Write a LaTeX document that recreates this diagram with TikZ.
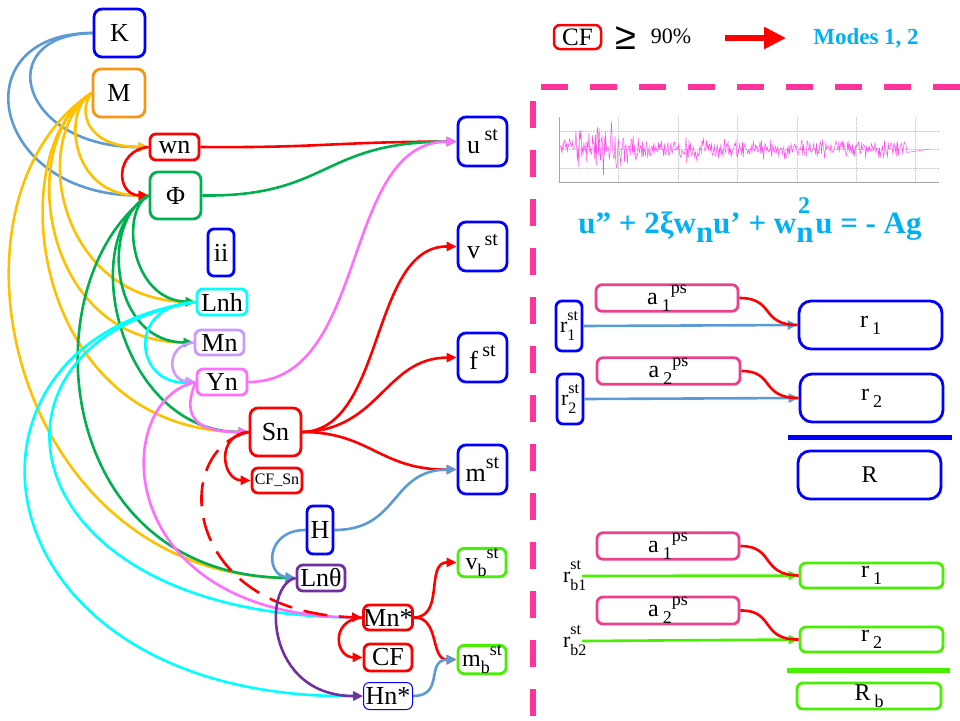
\documentclass[tikz,border=0pt]{standalone}
\usepackage{fontspec}
\setmainfont{Liberation Serif}
\newfontfamily\sansf{Liberation Sans}
\usetikzlibrary{arrows.meta}
\pgfdeclarelayer{bg}
\pgfsetlayers{bg,main}
\definecolor{cBlue}{RGB}{0,0,255}
\definecolor{cOrange}{RGB}{245,150,20}
\definecolor{cRed}{RGB}{255,0,0}
\definecolor{cGreen}{RGB}{0,176,80}
\definecolor{cCyan}{RGB}{0,255,255}
\definecolor{cLav}{RGB}{204,153,255}
\definecolor{cPink}{RGB}{255,110,255}
\definecolor{cPurple}{RGB}{112,48,160}
\definecolor{cLime}{RGB}{70,240,0}
\definecolor{cSteel}{RGB}{91,155,213}
\definecolor{cGold}{RGB}{255,192,0}
\definecolor{cMag}{RGB}{255,51,153}
\definecolor{cRose}{RGB}{236,64,140}
\definecolor{cSky}{RGB}{0,176,240}
\definecolor{cSig}{RGB}{255,80,240}
\newcommand{\MySup}[1]{\raisebox{0.5em}{\fontsize{20}{20}\selectfont #1}}
\newcommand{\MySupS}[1]{\raisebox{0.45em}{\fontsize{18}{18}\selectfont #1}}
\newcommand{\MySubS}[1]{\raisebox{-0.3em}{\fontsize{18}{18}\selectfont #1}}
\newcommand{\MyStack}[3]{#1\rlap{\raisebox{-0.4em}{\fontsize{16}{16}\selectfont #2}}\raisebox{0.55em}{\fontsize{16}{16}\selectfont #3}}
\tikzset{
  box/.style={draw=#1, fill=white, text=black, rounded corners=8pt, line width=2.8pt, inner sep=0pt, font=\fontsize{26}{27}\selectfont},
  sbox/.style={box=#1, rounded corners=6pt},
  rbox/.style={box=#1, rounded corners=6pt, font=\fontsize{24}{25}\selectfont},
  con/.style={line width=2.6pt, -{Triangle[length=10pt,width=9pt]}},
  plain/.style={line width=2.6pt},
}
\begin{document}
\begin{tikzpicture}[x=1pt,y=-1pt]
\useasboundingbox (0,0) rectangle (960,720);
% ---------- left nodes ----------
\node[box=cBlue, minimum width=51pt, minimum height=48pt] (K) at (119.5,33) {K};
\node[box=cOrange, minimum width=52pt, minimum height=48pt] (M) at (119,93) {M};
\node[sbox=cRed, minimum width=49pt, minimum height=26pt] (wn) at (174.5,147) {wn};
\node[box=cGreen, minimum width=51pt, minimum height=47pt] (Phi) at (175.5,195.5) {Φ};
\node[sbox=cBlue, minimum width=26pt, minimum height=47pt] (ii) at (221,252.5) {ii};
\node[sbox=cCyan, minimum width=50pt, minimum height=26pt] (Lnh) at (222,302) {Lnh};
\node[sbox=cLav, minimum width=49pt, minimum height=25pt] (Mn) at (219.5,342.5) {Mn};
\node[sbox=cPink, minimum width=50pt, minimum height=26pt] (Yn) at (222,382) {Yn};
\node[box=cRed, minimum width=51pt, minimum height=48pt] (Sn) at (275.5,432) {Sn};
\node[sbox=cRed, minimum width=50pt, minimum height=25pt, font=\fontsize{16}{17}\selectfont] (CFSn) at (277,480.5) {CF\_Sn};
\node[sbox=cBlue, minimum width=26pt, minimum height=48pt] (H) at (320,530) {H};
\node[sbox=cPurple, minimum width=48pt, minimum height=26pt] (Lnt) at (321,578) {Lnθ};
\node[sbox=cRed, minimum width=48pt, minimum height=25pt] (Mns) at (388,617.5) {Mn*};
\node[sbox=cRed, minimum width=48pt, minimum height=27pt] (CF) at (388,657.5) {CF};
\node[sbox=cBlue, line width=1pt, minimum width=49pt, minimum height=27pt] (Hns) at (388,696) {Hn*};
% ---------- output nodes ----------
\node[box=cBlue, minimum width=49pt, minimum height=49pt] (ust) at (482.5,141.5) {u\,\MySup{st}};
\node[box=cBlue, minimum width=49pt, minimum height=49pt] (vst) at (482.5,246.5) {v\,\MySup{st}};
\node[box=cBlue, minimum width=49pt, minimum height=49pt] (fst) at (482.5,357.5) {f\,\MySup{st}};
\node[box=cBlue, minimum width=49pt, minimum height=49pt] (mst) at (482.5,469.5) {m\MySup{st}};
\node[sbox=cLime, minimum width=48pt, minimum height=27pt, font=\fontsize{24}{24}\selectfont] (vbst) at (482,562.5) {v\MySubS{b}\MySupS{st}};
\node[sbox=cLime, minimum width=48pt, minimum height=27pt, font=\fontsize{24}{24}\selectfont] (mbst) at (482,659.5) {m\MySubS{b}\MySupS{st}};
% ---------- connectors (background) ----------
\begin{pgfonlayer}{bg}
% K (steel blue)
\draw[con, cSteel] (K.west) .. controls (-10,35) and (20,148) .. (wn.west);
\draw[con, cSteel] (K.west) .. controls (-40,33) and (-10,196) .. (Phi.west);
% M (gold)
\draw[con, cGold] (M.west) .. controls (78,110) and (85,147) .. (wn.west);
\draw[con, cGold] (M.west) .. controls (62,110) and (70,196) .. (Phi.west);
\draw[con, cGold] (M.west) .. controls (28,140) and (60,300) .. (Lnh.west);
\draw[con, cGold] (M.west) .. controls (15,140) and (40,342) .. (Mn.west);
\draw[con, cGold] (M.west) .. controls (0,150) and (30,430) .. (Sn.west);
\draw[con, cGold] (M.west) .. controls (-70,200) and (10,575) .. (Lnt.west);
% wn
\draw[con, cRed] (wn.west) .. controls (115,150) and (115,195) .. (Phi.west);
\draw[con, cRed] (wn.east) .. controls (320,148) and (330,142) .. (ust.west);
% Phi (green)
\draw[con, cGreen] (Phi.east) .. controls (330,197) and (320,142) .. (ust.west);
\draw[con, cGreen] (Phi.west) .. controls (120,210) and (130,300) .. (Lnh.west);
\draw[con, cGreen] (Phi.west) .. controls (100,220) and (110,342) .. (Mn.west);
\draw[con, cGreen] (Phi.west) .. controls (75,240) and (120,432) .. (Sn.west);
\draw[con, cGreen] (Phi.west) .. controls (30,280) and (50,575) .. (Lnt.west);
% Lnh (cyan)
\draw[con, cCyan] (Lnh.west) .. controls (125,305) and (135,385) .. (Yn.west);
\draw[con, cCyan] (Lnh.west) .. controls (-35,340) and (0,615) .. (Mns.west);
\draw[con, cCyan] (Lnh.west) .. controls (-72,340) and (-30,700) .. (Hns.west);
% Mn
\draw[con, cLav] (Mn.west) .. controls (165,345) and (168,380) .. (Yn.west);
% Yn (pink)
\draw[con, cPink] (Yn.east) .. controls (370,382) and (340,142) .. (ust.west);
\draw[con, cPink] (Yn.west) .. controls (180,420) and (200,432) .. (Sn.west);
\draw[con, cPink] (Yn.west) .. controls (110,400) and (110,615) .. (Mns.west);
% Sn (red)
\draw[con, cRed] (Sn.east) .. controls (385,430) and (370,246) .. (vst.west);
\draw[con, cRed] (Sn.east) .. controls (380,430) and (385,358) .. (fst.west);
\draw[con, cRed] (Sn.east) .. controls (370,432) and (380,470) .. (mst.west);
\draw[con, cRed] (Sn.west) .. controls (215,435) and (222,480) .. (CFSn.west);
\draw[con, cRed, dash pattern=on 24pt off 12pt] (Sn.west) .. controls (170,450) and (180,612) .. (Mns.west);
% H
\draw[con, cSteel] (H.west) .. controls (265,530) and (265,575) .. (Lnt.west);
\draw[con, cSteel] (H.east) .. controls (400,530) and (390,470) .. (mst.west);
% Lntheta
\draw[con, cPurple] (Lnt.west) .. controls (262,585) and (265,696) .. (Hns.west);
% Mn*
\draw[con, cRed] (Mns.west) .. controls (330,620) and (335,657) .. (CF.west);
\draw[con, cRed] (Mns.east) .. controls (445,617) and (425,562) .. (vbst.west);
\draw[con, cRed] (Mns.east) .. controls (440,617) and (430,660) .. (mbst.west);
\draw[con, cSteel] (Hns.east) .. controls (445,696) and (425,660) .. (mbst.west);
\end{pgfonlayer}
% ---------- top legend ----------
\node[sbox=cRed, line width=2.5pt, minimum width=47pt, minimum height=24pt, font=\fontsize{25}{25}\selectfont] (CFtop) at (577.5,37) {CF};
\node[font=\sansf\fontsize{38}{38}\selectfont] (geq) at (626,38) {≥};
\node[font=\fontsize{22}{22}\selectfont] (ninety) at (671,36) {90\%};
\coordinate (ra1) at (725,38);
\coordinate (ra2) at (786,38);
\draw[cRed, line width=6pt, -{Triangle[length=22pt,width=21pt]}] (ra1) -- (ra2);
\node[font=\bfseries\fontsize{23}{24}\selectfont, text=cSky] (modes) at (866,38) {Modes 1, 2};
% ---------- dashed frame ----------
\draw[cMag, line width=6pt, dash pattern=on 27pt off 22pt] (960,87) -- (533,87) -- (533,720);
% ---------- signal plot ----------
\foreach \gx in {618,678,737,797,856,915} \draw[gray!45, densely dotted, line width=0.6pt] (\gx,117) -- (\gx,182);
\foreach \gy in {131,149,168} \draw[gray!45, densely dotted, line width=0.6pt] (559,\gy) -- (939,\gy);
\pgfmathsetseed{11}
\draw[cSig, line width=0.5pt] plot[domain=560:907, samples=480] (\x, {149 - (11+22*exp(max(-30,-((\x-600)/28)^2)) + 9*exp(max(-30,-((\x-695)/12)^2)))*rand*sqrt(abs(rand))}) -- (930,149);
\draw[gray!70, line width=0.8pt] (559,117) -- (559,182) -- (939,182);
\node[font=\bfseries\fontsize{31}{32}\selectfont, text=cSky] (eq) at (750,220) {u” + 2ξw\raisebox{-0.3em}{n}u’ + w\raisebox{-0.3em}{n}\kern-0.5em\raisebox{0.65em}{\fontsize{24}{24}\selectfont 2}\,u = - Ag};
% ---------- right panel, upper ----------
\node[rbox=cBlue, minimum width=26pt, minimum height=50pt, font=\fontsize{22}{23}\selectfont] (r1st) at (569,326) {\MyStack{r}{1}{st}};
\node[rbox=cRose, minimum width=142pt, minimum height=26pt] (a1) at (667,298) {a\,\MySubS{1}\MySupS{ps}};
\node[rbox=cBlue, minimum width=143pt, minimum height=48pt, rounded corners=12pt] (r1) at (870.5,325) {r\,\MySubS{1}};
\node[rbox=cBlue, minimum width=26pt, minimum height=50pt, font=\fontsize{22}{23}\selectfont] (r2st) at (570,399) {\MyStack{r}{2}{st}};
\node[rbox=cRose, minimum width=143pt, minimum height=26pt] (a2) at (668.5,371) {a\,\MySubS{2}\MySupS{ps}};
\node[rbox=cBlue, minimum width=143pt, minimum height=48pt, rounded corners=12pt] (r2) at (871.5,398) {r\,\MySubS{2}};
\draw[cBlue, line width=5pt] (788,437) -- (952,437);
\node[rbox=cBlue, minimum width=143pt, minimum height=48pt, rounded corners=12pt] (R) at (869.5,475) {R};
\draw[con, cSteel] (r1st.east) -- (r1.west);
\draw[plain, cRed] (a1.east) .. controls (775,298) and (760,325) .. (r1.west);
\draw[con, cSteel] (r2st.east) -- (r2.west);
\draw[plain, cRed] (a2.east) .. controls (775,371) and (760,398) .. (r2.west);
% ---------- right panel, lower ----------
\node[rbox=cRose, minimum width=142pt, minimum height=26pt] (a1b) at (668,546) {a\,\MySubS{1}\MySupS{ps}};
\node[font=\fontsize{22}{23}\selectfont, inner sep=1pt] (rb1) at (572,576) {\MyStack{r}{b1}{st}};
\node[rbox=cLime, minimum width=143pt, minimum height=25pt] (r1b) at (871.5,575.5) {r\,\MySubS{1}};
\node[rbox=cRose, minimum width=142pt, minimum height=27pt] (a2b) at (668,610.5) {a\,\MySubS{2}\MySupS{ps}};
\node[font=\fontsize{22}{23}\selectfont, inner sep=1pt] (rb2) at (572,641) {\MyStack{r}{b2}{st}};
\node[rbox=cLime, minimum width=143pt, minimum height=25pt] (r2b) at (871.5,639.5) {r\,\MySubS{2}};
\draw[cLime, line width=5pt] (787,670) -- (950,670);
\node[rbox=cLime, minimum width=144pt, minimum height=26pt] (Rb) at (869,696) {R\,\MySubS{b}};
\draw[con, cLime] (rb1.east) -- (r1b.west);
\draw[plain, cRed] (a1b.east) .. controls (775,546) and (760,575) .. (r1b.west);
\draw[con, cLime] (rb2.east) -- (r2b.west);
\draw[plain, cRed] (a2b.east) .. controls (775,610) and (760,640) .. (r2b.west);
\end{tikzpicture}
\end{document}
